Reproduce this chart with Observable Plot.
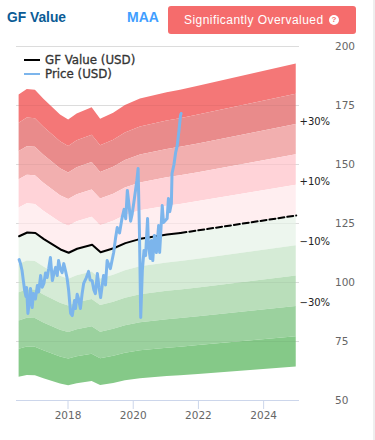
<!DOCTYPE html>
<html>
<head>
<meta charset="utf-8">
<script src="https://cdn.jsdelivr.net/npm/d3@7"></script>
<script src="https://cdn.jsdelivr.net/npm/@observablehq/plot@0.6"></script>
<style>
html,body{margin:0;padding:0;background:#fff;}
#wrap{position:relative;width:375px;height:440px;overflow:hidden;}
#wrap svg{position:absolute;left:0;top:0;}
.t{position:absolute;white-space:nowrap;}
#gf{left:7px;top:10px;font:bold 13.8px/16px "Liberation Sans",sans-serif;color:#0b5c96;}
#tk{left:127px;top:9px;font:bold 14px/17px "Liberation Sans",sans-serif;color:#409eff;}
#btn{left:168px;top:6px;width:188px;height:28px;background:#f56c6c;border-radius:3px;color:#fff;font:12px/28px "Liberation Sans",sans-serif;letter-spacing:.45px;}
#btn span.l{position:absolute;left:16px;top:0;}
#btn span.q{position:absolute;left:161px;top:9px;width:10px;height:10px;border-radius:50%;background:#fff;color:#f56c6c;font:bold 8px/10px "Liberation Sans",sans-serif;text-align:center;letter-spacing:0;}
.lg{left:45px;font:500 11.8px/14px "DejaVu Sans",sans-serif;color:#333;-webkit-text-stroke:.3px #333;}
.sw{position:absolute;left:24px;width:16px;height:2px;}
#edge{position:absolute;left:373px;top:0;width:2px;height:440px;background:#eeeeee;}
</style>
</head>
<body>
<div id="wrap">
  <div id="gf" class="t">GF Value</div>
  <div id="tk" class="t">MAA</div>
  <div id="btn" class="t"><span class="l">Significantly Overvalued</span><span class="q">?</span></div>
  <div class="sw" style="top:59px;background:#000"></div>
  <div class="lg t" style="top:53px">GF Value (USD)</div>
  <div class="sw" style="top:73px;background:#7cb5ec"></div>
  <div class="lg t" style="top:67px">Price (USD)</div>
  <div id="edge"></div>
</div>
<script>
const gfYears  = [2016.5,2016.75,2017.0,2017.26,2017.77,2018.02,2018.28,2018.74,2019.0,2019.4,2019.76,2020.22,2021.04,2021.45,2022.0,2025.0];
const gfValues = [119.6,121.2,121,118.4,114,112.6,114.3,116,112.8,114.5,116.7,118.5,120.3,121,122.1,128.4];
const forecastFrom = 2021.45;

const priceYears  = [2016.5,2016.54,2016.59,2016.63,2016.67,2016.71,2016.73,2016.77,2016.82,2016.85,2016.9,2016.94,2017.0,2017.06,2017.1,2017.16,2017.21,2017.26,2017.31,2017.36,2017.41,2017.46,2017.52,2017.57,2017.62,2017.67,2017.71,2017.76,2017.82,2017.87,2017.92,2017.97,2018.02,2018.08,2018.13,2018.2,2018.23,2018.28,2018.32,2018.38,2018.43,2018.48,2018.56,2018.63,2018.68,2018.74,2018.79,2018.84,2018.9,2018.95,2019.0,2019.09,2019.15,2019.2,2019.3,2019.4,2019.46,2019.51,2019.58,2019.66,2019.72,2019.77,2019.82,2019.87,2019.92,2019.97,2020.02,2020.07,2020.11,2020.15,2020.19,2020.23,2020.28,2020.33,2020.38,2020.44,2020.47,2020.52,2020.56,2020.6,2020.65,2020.71,2020.78,2020.81,2020.84,2020.89,2020.93,2021.04,2021.08,2021.12,2021.17,2021.19,2021.25,2021.3,2021.35,2021.4,2021.45,2021.47];
const priceValues = [109.7,108.1,105.1,100.8,96.6,94.1,97.9,86.9,92.4,97.5,89.4,95.3,93,98.7,96,103,98,99.6,104,102.1,106,110.6,100.8,104,106.4,103,109.3,106,104.2,108,105.1,102,96.6,86.9,86,92.4,89,95,93.2,89,95,99.6,102,104.7,101,100.8,97,95.3,103.8,98,93.6,103,99,109.3,105.9,112.7,119,123.3,121,127.5,131,127,139,133,126,129.2,134,139,143,148.3,122,85.2,105.1,113.6,111.4,127.1,115.7,110.2,117.8,109.3,119.9,112.7,124.2,112.7,119.9,132.6,125.4,127.1,135.6,130,133.5,146.2,150,155,158,164,170.8,171.6];

const bandEdges  = [1.5,1.4,1.3,1.2,1.1,1,0.9,0.8,0.7,0.6,0.5];
const bandColors = ["#f47777","#e98b8b","#f2afaf","#ffd3d8","#ffeef0","#edf6ee","#d5ebd6","#b9deba","#9bd19e","#85c988"];

const labelTexts  = ["+30%","+10%","−10%","−30%"];
const labelValues = [168.2,142.8,117.4,91.5];

const yTicks = [50,75,100,125,150,175,200];
const gridTicks = [75,100,125,150,175,200];
const xTicks = [2018,2020,2022,2024];

const gf = gfYears.map((x,i)=>({x,v:gfValues[i]}));
const price = priceYears.map((x,i)=>({x,v:priceValues[i]}));
const labels = labelTexts.map((t,i)=>({t,v:labelValues[i]}));

const bandMarks = bandColors.map((c,i)=>Plot.areaY(gf,{
  x:"x", y1:d=>d.v*bandEdges[i+1], y2:d=>d.v*bandEdges[i], fill:c
}));

const chart = Plot.plot({
  width:375, height:440,
  marginTop:46, marginBottom:40, marginLeft:16, marginRight:76,
  style:{background:"transparent",fontFamily:"'DejaVu Sans',sans-serif",fontSize:"10.5px",overflow:"visible"},
  x:{domain:[2016.42,2025.1]},
  y:{domain:[50,200]},
  marks:[
    Plot.ruleY(gridTicks,{stroke:"#e6e6e6"}),
    ...bandMarks,
    Plot.ruleY(gridTicks,{stroke:"#000",strokeOpacity:0.045}),
    Plot.ruleY([50],{stroke:"#ccd6eb"}),
    Plot.axisX({ticks:xTicks,tickFormat:d=>String(d),tickSize:9,tickPadding:2,stroke:"#ccd6eb",fill:"#666",label:null}),
    Plot.axisY({anchor:"right",ticks:yTicks,tickSize:0,tickPadding:35.5,textAnchor:"start",fill:"#666",label:null}),
    Plot.line(gf.filter(d=>d.x<=forecastFrom),{x:"x",y:"v",stroke:"#000",strokeWidth:2}),
    Plot.line(gf.filter(d=>d.x>=forecastFrom),{x:"x",y:"v",stroke:"#000",strokeWidth:2,strokeDasharray:"6,3"}),
    Plot.line(price,{x:"x",y:"v",stroke:"#7cb5ec",strokeWidth:3,curve:"linear"}),
    Plot.text(labels,{x:()=>2025.1,y:"v",text:"t",textAnchor:"start",fill:"#222",fontSize:10})
  ]
});
document.getElementById("wrap").prepend(chart);
</script>
</body>
</html>
